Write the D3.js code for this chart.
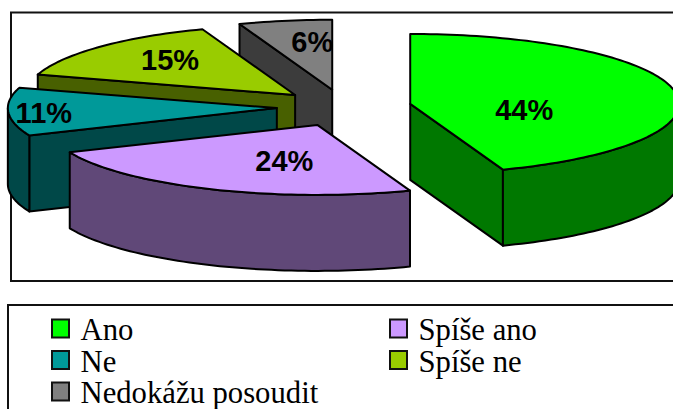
<!DOCTYPE html>
<html><head><meta charset="utf-8">
<script src="https://cdn.jsdelivr.net/npm/d3@7/dist/d3.min.js"></script>
<style>html,body{margin:0;padding:0;background:#fff;overflow:hidden}svg{display:block}</style>
</head><body><svg id="c" width="673" height="409"></svg>
<script>
const categories = ["Ano","Spíše ano","Ne","Spíše ne","Nedokážu posoudit"];
const values = [44.4,24.2,11.1,14.7,5.6];
const labels = ["44%","24%","11%","15%","6%"];
const colors = ["#00FF00","#CC99FF","#009999","#99CC00","#808080"];

const svg = d3.select("#c");
const cx=344, cy=107, rx=269, ry=70, depth=76, explode=0.25, shade=0.47, perspective=2;
const sx=d3.scaleLinear().domain([-1,1]).range([-rx,rx]);
const sy=d3.scaleLinear().domain([-1,1]).range([-ry,ry]);
const pie=d3.pie().sort(null).startAngle(0).endAngle(2*Math.PI);
const arcs=pie(values);
const line=d3.line();
const dark=c=>{const r=d3.rgb(c);return d3.rgb(r.r*shade,r.g*shade,r.b*shade).formatHex();};
const pt=(o,t,d=0)=>[o[0]+sx(Math.sin(t)),o[1]-sy(Math.cos(t))+d];
const samples=(a,b)=>{const n=Math.max(2,Math.ceil((b-a)*40));return d3.range(n+1).map(i=>a+(b-a)*i/n);};

// frames
svg.append("rect").attr("x",11).attr("y",12.5).attr("width",700).attr("height",268.5)
  .attr("fill","#fff").attr("stroke","#111").attr("stroke-width",2);
svg.append("rect").attr("x",8).attr("y",305).attr("width",700).attr("height",140)
  .attr("fill","#fff").attr("stroke","#111").attr("stroke-width",2);

const stroke=s=>s.attr("stroke","#000").attr("stroke-width",2).attr("stroke-linejoin","round");
const centers=arcs.map(a=>{const m=(a.startAngle+a.endAngle)/2;
  return [cx+explode*sx(Math.sin(m)),cy-explode*sy(Math.cos(m))+perspective*Math.max(0,-Math.cos(m))];});

// painter's order: back slices first
d3.range(arcs.length-1,-1,-1).forEach(i=>{
  const a=arcs[i],o=centers[i],c=colors[i],g=svg.append("g");
  const radial=t=>{const p=pt(o,t);
    g.append("path").attr("d",line([o,p,[p[0],p[1]+depth],[o[0],o[1]+depth]])+"Z").attr("fill",dark(c)).call(stroke);};
  if(a.startAngle>Math.PI) radial(a.startAngle);
  if(a.endAngle<Math.PI) radial(a.endAngle);
  const lo=Math.max(a.startAngle,Math.PI/2),hi=Math.min(a.endAngle,1.5*Math.PI);
  if(hi>lo){const ts=samples(lo,hi);
    const pts=ts.map(t=>pt(o,t)).concat(ts.slice().reverse().map(t=>pt(o,t,depth)));
    g.append("path").attr("d",line(pts)+"Z").attr("fill",dark(c)).call(stroke);}
  const top=[o].concat(samples(a.startAngle,a.endAngle).map(t=>pt(o,t)));
  g.append("path").attr("d",line(top)+"Z").attr("fill",c).call(stroke);
});

// data labels, placed relative to each slice's own centre
const labelOffset=[[114,6],[-33,36],[-233,5],[-125,-35],[-20,-48]];
arcs.forEach((a,i)=>{
  svg.append("text").attr("x",centers[i][0]+labelOffset[i][0]).attr("y",centers[i][1]+labelOffset[i][1]+10)
    .attr("text-anchor","middle").attr("font-family","Liberation Sans").attr("font-weight","bold")
    .attr("font-size",29).attr("fill","#000").text(labels[i]);
});

// legend
const legX=d3.scaleOrdinal().domain([0,1]).range([52,390]);
const legY=d3.scaleOrdinal().domain([0,1,2]).range([340,371.5,403]);
categories.forEach((n,i)=>{
  const col=i%2,row=Math.floor(i/2),x=legX(col),y=legY(row);
  svg.append("rect").attr("x",x).attr("y",y-20.5).attr("width",17).attr("height",18)
    .attr("fill",colors[i]).attr("stroke","#111").attr("stroke-width",2);
  svg.append("text").attr("transform",`translate(${x+28.5},${y}) scale(0.99,1)`)
    .attr("font-family","Liberation Serif").attr("font-size",31).attr("fill","#000").text(n);
});
</script></body></html>
